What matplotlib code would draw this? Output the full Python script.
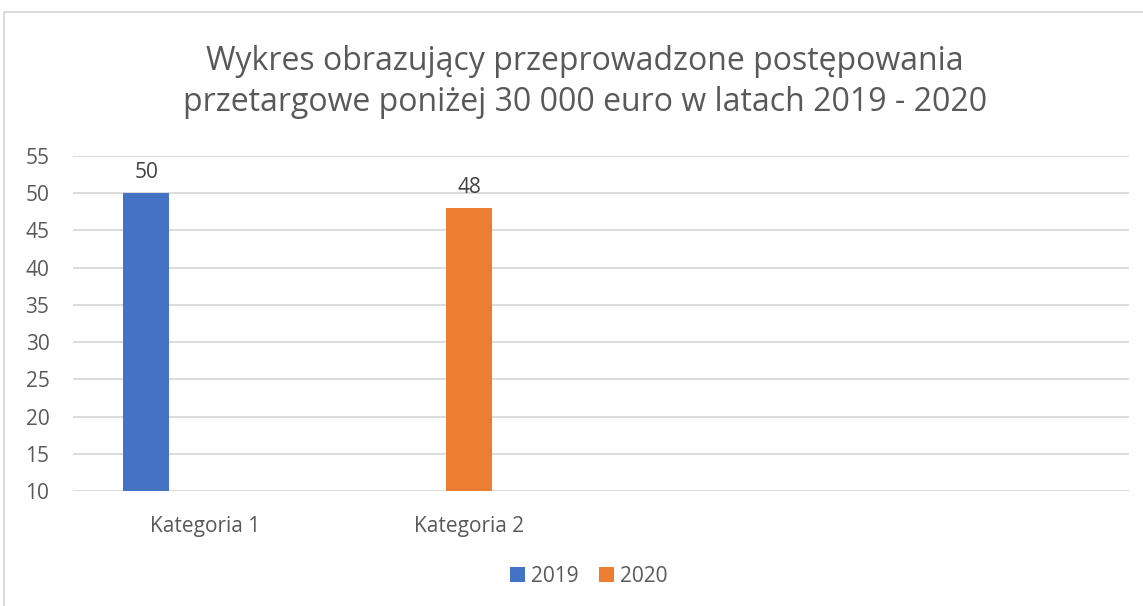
import matplotlib.pyplot as plt
import matplotlib.patches as patches
import numpy as np

plt.rcParams['font.family'] = ['Open Sans', 'DejaVu Sans']

categories = ['Kategoria 1', 'Kategoria 2', '', '']
series_names = ['2019', '2020']
vals_2019 = [50, np.nan, np.nan, np.nan]
vals_2020 = [np.nan, 48, np.nan, np.nan]
colors = ['#4472c4', '#ed7d31']
yticks = [10, 15, 20, 25, 30, 35, 40, 45, 50, 55]

W, H = 1143, 606
fig = plt.figure(figsize=(W / 100, H / 100), dpi=100)

# chart frame
fig.patches.append(patches.Rectangle((4 / W, -0.01), 1.2, (H - 12) / H + 0.01,
                                     transform=fig.transFigure, fill=False,
                                     edgecolor='#d9d9d9', lw=1.3))

ax = fig.add_axes([73 / W, 115 / H, (1129 - 73) / W, 335 / H])
x = np.arange(len(categories))
offsets = [-0.223, 0.0]
width = 46 / 264
for vals, off, c, name in zip([vals_2019, vals_2020], offsets, colors, series_names):
    bars = ax.bar(x + off, vals, width, color=c, label=name, zorder=3)
    for b, v in zip(bars, vals):
        if not np.isnan(v):
            ax.text(b.get_x() + b.get_width() / 2, v + 1.4, f'{v:g}',
                    ha='center', va='bottom', fontsize=15, color='#404040')

ax.set_xlim(-0.5, len(categories) - 0.5)
ax.set_ylim(10, 55)
ax.set_yticks(yticks)
ax.set_xticks(x)
ax.set_xticklabels(categories)
ax.yaxis.grid(True, color='#d9d9d9', lw=1.3, zorder=0)
for s in ax.spines.values():
    s.set_visible(False)
ax.tick_params(axis='both', length=0, labelsize=15, labelcolor='#595959')
ax.tick_params(axis='y', pad=17)
ax.tick_params(axis='x', pad=18)

fig.text(585 / W, 1 - 82 / H,
         'Wykres obrazujący przeprowadzone postępowania\nprzetargowe poniżej 30 000 euro w latach 2019 - 2020',
         ha='center', va='center', fontsize=23, color='#595959', linespacing=1.32)

fig.legend(loc='center', bbox_to_anchor=(589 / W, 1 - 576 / H), ncol=2, frameon=False,
           fontsize=15, labelcolor='#595959', handlelength=0.7, handleheight=0.7,
           columnspacing=1.0, handletextpad=0.3)

fig.savefig('out.png', dpi=100, facecolor='white')
